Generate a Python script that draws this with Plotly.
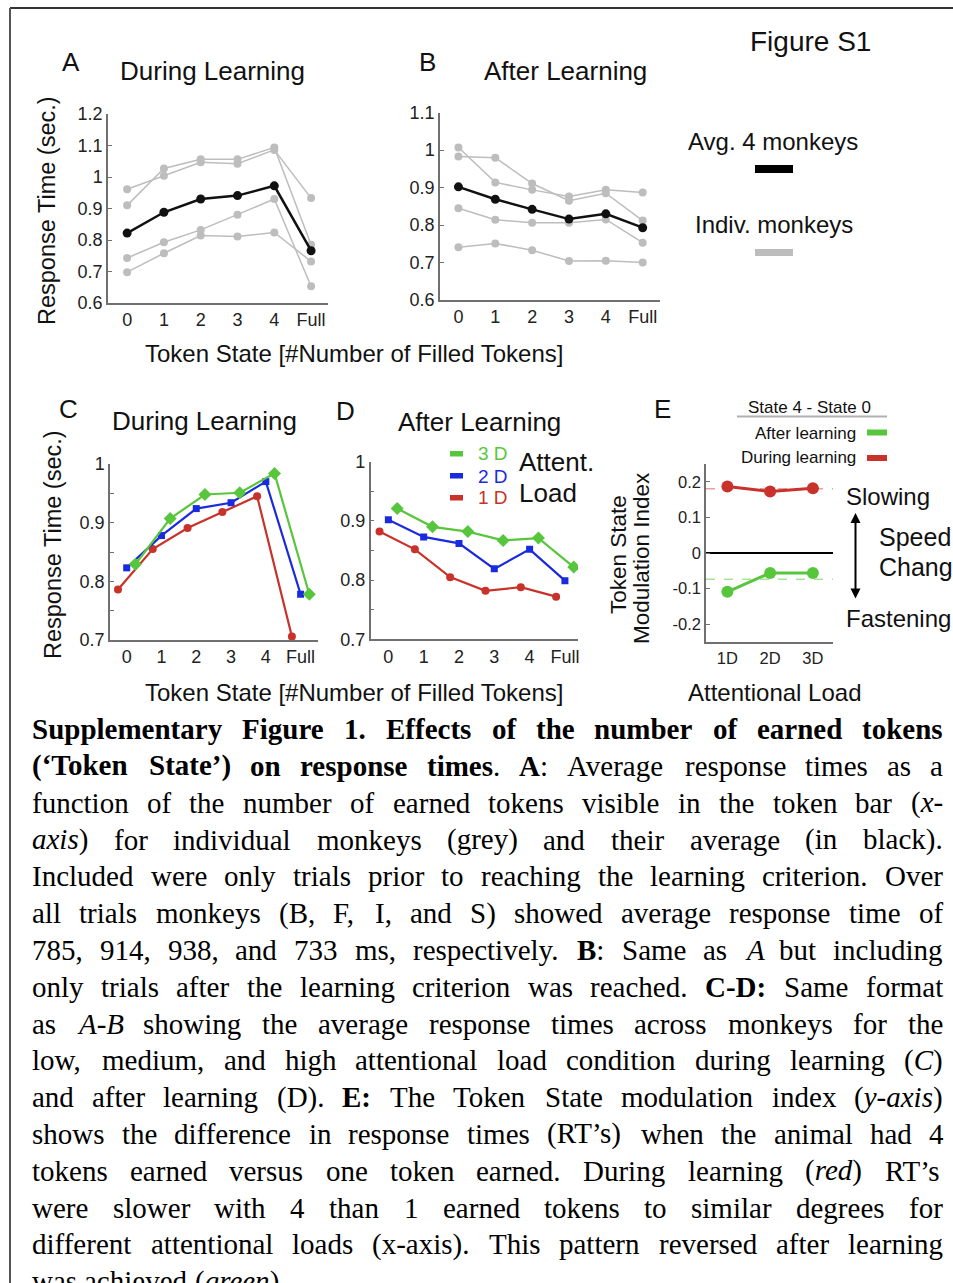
import plotly.graph_objects as go
import numpy as np

W, H = 953, 1283
SANS = "Liberation Sans, Arial, sans-serif"
SERIF = "Liberation Serif, Times New Roman, serif"


def px(x):
    return x / W


def py(y):
    return 1 - y / H


# ---------------- data ----------------
token_states = ['0', '1', '2', '3', '4', 'Full']

# Panel A: during learning (sec)
a_avg = [0.822, 0.888, 0.930, 0.941, 0.972, 0.766]
a_m1 = [0.961, 1.004, 1.047, 1.042, 1.086, 0.933]
a_m2 = [0.910, 1.027, 1.056, 1.056, 1.094, 0.785]
a_m3 = [0.743, 0.793, 0.832, 0.880, 0.930, 0.653]
a_m4 = [0.698, 0.758, 0.814, 0.811, 0.824, 0.732]

# Panel B: after learning (sec)
b_avg = [0.902, 0.869, 0.842, 0.816, 0.830, 0.793]
b_m1 = [1.007, 0.914, 0.894, 0.876, 0.894, 0.887]
b_m2 = [0.983, 0.980, 0.911, 0.865, 0.885, 0.812]
b_m3 = [0.845, 0.814, 0.806, 0.806, 0.815, 0.753]
b_m4 = [0.741, 0.751, 0.733, 0.704, 0.705, 0.700]

# Panel C: during learning by attentional load
c_1d = [0.786, 0.855, 0.891, 0.918, 0.945, 0.706]
c_2d = [0.823, 0.878, 0.924, 0.934, 0.970, 0.778]
c_3d = [0.829, 0.907, 0.948, 0.951, 0.984, 0.778]

# Panel D: after learning by attentional load
d_1d = [0.882, 0.852, 0.805, 0.782, 0.788, 0.772]
d_2d = [0.902, 0.873, 0.862, 0.819, 0.852, 0.799]
d_3d = [0.921, 0.890, 0.882, 0.867, 0.871, 0.822]

# Panel E: token state modulation index (state 4 - state 0)
loads = ['1D', '2D', '3D']
e_during = [0.187, 0.173, 0.182]
e_after = [-0.109, -0.056, -0.056]

caption_lines = [
    "<b>Supplementary Figure 1. Effects of the number of earned tokens</b>",
    "<b>(‘Token State’) on response times</b>. <b>A</b>: Average response times as a",
    "function of the number of earned tokens visible in the token bar (<i>x-</i>",
    "<i>axis</i>) for individual monkeys (grey) and their average (in black).",
    "Included were only trials prior to reaching the learning criterion. Over",
    "all trials monkeys (B, F, I, and S) showed average response time of",
    "785, 914, 938, and 733 ms, respectively. <b>B</b>: Same as <i>A</i> but including",
    "only trials after the learning criterion was reached. <b>C-D:</b> Same format",
    "as <i>A-B</i> showing the average response times across monkeys for the",
    "low, medium, and high attentional load condition during learning (<i>C</i>)",
    "and after learning (D). <b>E:</b> The Token State modulation index (<i>y-axis</i>)",
    "shows the difference in response times (RT’s) when the animal had 4",
    "tokens earned versus one token earned. During learning (<i>red</i>) RT’s",
    "were slower with 4 than 1 earned tokens to similar degrees for",
    "different attentional loads (x-axis). This pattern reversed after learning",
    "was achieved (<i>green</i>).",
]

# ---------------- styles ----------------
GREY = '#bdbdbd'
BLACK = '#111111'
GREEN = '#58c63c'
BLUE = '#1a2ade'
RED = '#c8322a'
AXC = '#707070'

fig = go.Figure()
xs = np.arange(len(token_states))


def axes(n, xd, yd, xr, yr, xt, xtt, yt, ytt, fs=18):
    sx = '' if n == 1 else str(n)
    common = dict(showline=True, linecolor=AXC, linewidth=1.5, showgrid=False,
                  zeroline=False, tickcolor=AXC, tickfont=dict(family=SANS, size=fs, color='#222'),
                  tickmode='array', fixedrange=True, automargin=False)
    fig.update_layout(**{
        'xaxis' + sx: dict(domain=[px(xd[0]), px(xd[1])], range=xr, anchor='y' + sx,
                           tickvals=xt, ticktext=xtt, ticks='', **common),
        'yaxis' + sx: dict(domain=[py(yd[1]), py(yd[0])], range=yr, anchor='x' + sx,
                           tickvals=yt, ticktext=ytt, ticks='inside', ticklen=4, **common),
    })


def fmt(v):
    s = f'{v:.1f}'
    if s.endswith('.0'):
        s = s[:-2]
    if s == '-0':
        s = '0'
    return s


yA = np.round(np.arange(0.6, 1.21, 0.1), 2)
axes(1, (108, 328), (114, 303), [-0.52, 5.46], [0.6, 1.2], xs, token_states, yA, [fmt(v) for v in yA])
yB = np.round(np.arange(0.6, 1.11, 0.1), 2)
axes(2, (440, 660), (112.7, 300), [-0.5, 5.47], [0.6, 1.1], xs, token_states, yB, [fmt(v) for v in yB])
yC = np.round(np.arange(0.7, 1.01, 0.05), 2)
yCt = [fmt(v) if abs(v * 10 - round(v * 10)) < 1e-6 else '' for v in yC]
axes(3, (110, 318), (464, 640), [-0.48, 5.5], [0.7, 1.0], xs, token_states, yC, yCt)
axes(4, (370.7, 578), (461.7, 639.3), [-0.5, 5.37], [0.7, 1.0], xs, token_states, yC, yCt)
yE = np.round(np.arange(-0.2, 0.21, 0.1), 2)
axes(5, (706, 833), (464, 642), [0.5, 3.47], [-0.25, 0.25], [1, 2, 3], loads, yE, [fmt(v) for v in yE], fs=16.5)

# Panel A & B traces
for sx, monkeys, avg in (('', [a_m1, a_m2, a_m3, a_m4], a_avg), ('2', [b_m1, b_m2, b_m3, b_m4], b_avg)):
    for m in monkeys:
        fig.add_trace(go.Scatter(x=xs, y=m, mode='lines+markers', xaxis='x' + sx, yaxis='y' + sx,
                                 line=dict(color=GREY, width=1.5), marker=dict(color=GREY, size=8),
                                 showlegend=False, hoverinfo='skip'))
    fig.add_trace(go.Scatter(x=xs, y=avg, mode='lines+markers', xaxis='x' + sx, yaxis='y' + sx,
                             line=dict(color=BLACK, width=2.5), marker=dict(color=BLACK, size=9),
                             showlegend=False, hoverinfo='skip'))

# Panel C & D traces
offs = {'1d': -0.25, '2d': 0.0, '3d': 0.25}
sty = {'1d': (RED, 'circle', 8), '2d': (BLUE, 'square', 7), '3d': (GREEN, 'diamond', 10)}
for sx, series in (('3', {'1d': c_1d, '2d': c_2d, '3d': c_3d}), ('4', {'1d': d_1d, '2d': d_2d, '3d': d_3d})):
    for key in ('1d', '2d', '3d'):
        col, sym, sz = sty[key]
        fig.add_trace(go.Scatter(x=xs + offs[key], y=series[key], mode='lines+markers',
                                 xaxis='x' + sx, yaxis='y' + sx,
                                 line=dict(color=col, width=2.2), marker=dict(color=col, symbol=sym, size=sz),
                                 showlegend=False, hoverinfo='skip'))

# Panel E traces
ex = np.arange(1, len(loads) + 1)
for vals, col in ((e_during, RED), (e_after, GREEN)):
    fig.add_trace(go.Scatter(x=ex, y=vals, mode='lines+markers', xaxis='x5', yaxis='y5',
                             line=dict(color=col, width=3), marker=dict(color=col, size=12),
                             showlegend=False, hoverinfo='skip'))

shapes = []
# reference lines in E
shapes.append(dict(type='line', xref='x5 domain', yref='y5', x0=0, x1=1, y0=0, y1=0,
                   line=dict(color='black', width=2), layer='below'))
shapes.append(dict(type='line', xref='x5 domain', yref='y5', x0=0, x1=1,
                   y0=float(np.mean(e_during)), y1=float(np.mean(e_during)),
                   line=dict(color='#eaa0a0', width=1.5, dash='dash'), layer='below'))
shapes.append(dict(type='line', xref='x5 domain', yref='y5', x0=0, x1=1,
                   y0=float(np.mean(e_after)), y1=float(np.mean(e_after)),
                   line=dict(color='#a8e496', width=1.5, dash='dash'), layer='below'))


def prect(x0, y0, x1, y1, col):
    shapes.append(dict(type='rect', xref='paper', yref='paper', x0=px(x0), x1=px(x1), y0=py(y1), y1=py(y0),
                       fillcolor=col, line=dict(width=0)))


def pline(x0, y0, x1, y1, col, w):
    shapes.append(dict(type='line', xref='paper', yref='paper', x0=px(x0), x1=px(x1), y0=py(y0), y1=py(y1),
                       line=dict(color=col, width=w)))


# frame
pline(10, 8, 953, 8, '#333', 2)
pline(10, 8, 10, 1283, '#555', 2)
# top-right legend bars
prect(755, 165, 793, 173, 'black')
prect(755, 249, 793, 256, GREY)
# D legend bars
prect(450, 451, 463, 456.5, GREEN)
prect(450, 473, 463, 478.5, BLUE)
prect(450, 495, 463, 500.5, RED)
# E legend
pline(737, 416.5, 887, 416.5, '#b0b0b0', 2)
prect(867, 429.5, 887, 435.5, GREEN)
prect(867, 455, 887, 461, RED)

ann = []


def text(x, y, s, size, anchor='center', color='#111', family=SANS, angle=0):
    ann.append(dict(xref='paper', yref='paper', x=px(x), y=py(y), text=s, showarrow=False,
                    xanchor=anchor, yanchor='middle', textangle=angle, borderpad=0,
                    font=dict(family=family, size=size, color=color)))


# panel letters & titles
text(71, 62, 'A', 26)
text(212, 71, 'During Learning', 26)
text(427, 62, 'B', 26)
text(565, 71, 'After Learning', 26)
text(68, 409, 'C', 26)
text(204, 421, 'During Learning', 26)
text(345, 411, 'D', 26)
text(480, 422, 'After Learning', 26)
text(662, 409, 'E', 26)
# axis titles
text(47, 211, 'Response Time (sec.)', 23.5, angle=-90)
text(53, 545, 'Response Time (sec.)', 23.5, angle=-90)
text(354, 353, 'Token State [#Number of Filled Tokens]', 24)
text(354, 692, 'Token State [#Number of Filled Tokens]', 24)
text(618, 555, 'Token State', 22.5, angle=-90)
text(641, 558, 'Modulation Index', 22.5, angle=-90)
text(774, 692, 'Attentional Load', 24)
# top-right legend
text(810, 42, 'Figure S1', 28)
text(773, 142, 'Avg. 4 monkeys', 24)
text(774, 224, 'Indiv. monkeys', 24)
# D legend
text(477, 453, '3 D', 19, anchor='left', color=GREEN)
text(477, 476, '2 D', 19, anchor='left', color=BLUE)
text(477, 498, '1 D', 19, anchor='left', color=RED)
text(518, 462, 'Attent.', 26, anchor='left')
text(518, 493, 'Load', 26, anchor='left')
# E legend and annotations
text(809, 407, 'State 4 - State 0', 17)
text(857, 433, 'After learning', 17, anchor='right')
text(857, 458, 'During learning', 17, anchor='right')
text(845, 496, 'Slowing', 24, anchor='left')
text(878, 537, 'Speed', 25, anchor='left')
text(878, 567, 'Change', 25, anchor='left')
text(845, 618, 'Fastening', 24, anchor='left')
ann.append(dict(xref='paper', yref='paper', x=px(855.5), y=py(513), ax=0, ay=87, text='',
                showarrow=True, arrowhead=2, startarrowhead=2, arrowside='end+start',
                arrowwidth=2, arrowsize=1, startarrowsize=1, arrowcolor='black'))

# ---------------- caption (justified, Times metrics) ----------------


def table(spec):
    d = {}
    for w, chars in spec.items():
        for c in chars:
            d[c] = w
    return d


REG = table({250: " .,", 278: ":;ijlt", 333: "()-’‘frI[]", 389: "sJ", 444: "acez?",
             500: "bdghknopquvxy0123456789", 556: "FPS", 611: "ELTZ", 667: "BCR",
             722: "ADGHKNOQUVXYw", 778: "m", 889: "M", 944: "W"})
BOLD = table({250: " .,", 278: "il", 333: "():-’‘ftjI", 389: "s", 444: "cerz",
              500: "agovxyJ0123456789", 556: "bdhknpquS", 611: "FP", 667: "BELTZ",
              722: "ACDNRUVXYw", 778: "GHKOQ", 833: "m", 944: "M", 1000: "W"})
ITAL = table({250: " .,", 278: "filtj", 333: "():-’‘I", 389: "rsz", 444: "ckvxye",
              500: "abdghnopqu0123456789", 611: "ABEFPR", 667: "Cw", 722: "DmHGOQU"})


def parse_words(line):
    chars, b, it, k = [], False, False, 0
    while k < len(line):
        for tag, attr in (('<b>', 'b1'), ('</b>', 'b0'), ('<i>', 'i1'), ('</i>', 'i0')):
            if line.startswith(tag, k):
                if attr == 'b1':
                    b = True
                elif attr == 'b0':
                    b = False
                elif attr == 'i1':
                    it = True
                else:
                    it = False
                k += len(tag)
                break
        else:
            chars.append((line[k], b, it))
            k += 1
    words, cur = [], []
    for c in chars:
        if c[0] == ' ':
            if cur:
                words.append(cur)
                cur = []
        else:
            cur.append(c)
    if cur:
        words.append(cur)
    return words


def word_html(word, fs):
    runs = []
    for ch, b, it in word:
        if runs and runs[-1][1] == b and runs[-1][2] == it:
            runs[-1][0] += ch
        else:
            runs.append([ch, b, it])
    html, width = '', 0.0
    for t, b, it in runs:
        tbl = BOLD if b else (ITAL if it else REG)
        width += sum(tbl.get(c, 500) for c in t) * fs / 1000
        s = t
        if it:
            s = '<i>' + s + '</i>'
        if b:
            s = '<b>' + s + '</b>'
        html += s
    return html, width


CFS = 29
LEFT, RIGHT = 31, 942
for k, line in enumerate(caption_lines):
    words = [word_html(w, CFS) for w in parse_words(line)]
    total = sum(w for _, w in words)
    last = k == len(caption_lines) - 1
    gap = 0.25 * CFS if last else (RIGHT - LEFT - total) / (len(words) - 1)
    baseline = 739 + 36.8 * k
    yc = baseline - 0.34 * CFS
    x = LEFT
    for html, w in words:
        text(x, yc, html, CFS, anchor='left', color='black', family=SERIF)
        x += w + gap

fig.update_layout(width=W, height=H, autosize=False,
                  margin=dict(l=0, r=0, t=0, b=0, pad=0, autoexpand=False),
                  paper_bgcolor='white', plot_bgcolor='white', shapes=shapes, annotations=ann,
                  showlegend=False)

fig.write_html("out.html", config={'displayModeBar': False},
               post_script="document.body.style.margin='0';document.body.style.overflow='hidden';")
